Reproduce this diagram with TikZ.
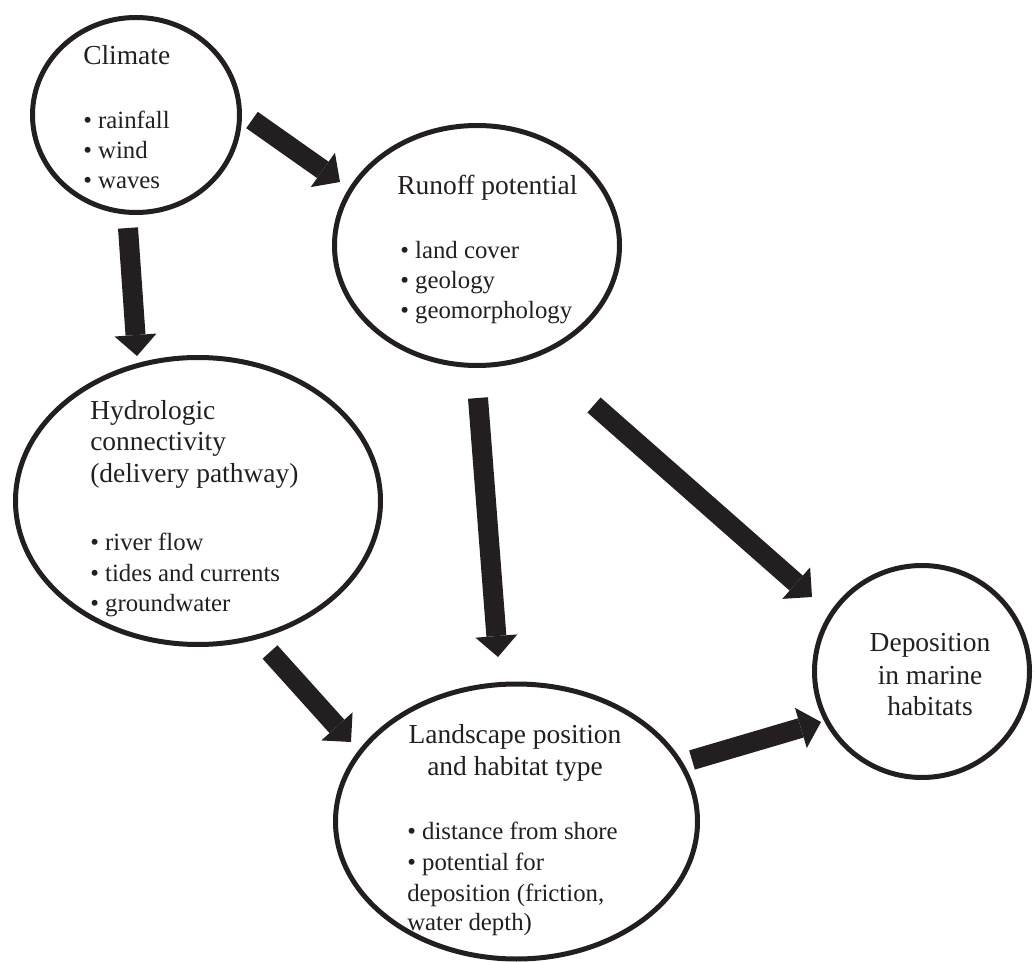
\documentclass[tikz,border=0pt]{standalone}
\usepackage{fontspec}
\setmainfont{Liberation Serif}
\usetikzlibrary{arrows.meta,shapes.geometric}
\definecolor{ink}{HTML}{231F20}
\begin{document}
\begin{tikzpicture}[x=0.75pt,y=-0.75pt,
  bubble/.style={draw=ink, line width=3.75pt, shape=ellipse, inner sep=0pt},
  txt/.style={font=\fontsize{20.6}{23}\selectfont, text=ink, inner sep=0pt},
  itm/.style={font=\fontsize{18.6}{22}\selectfont, text=ink, inner sep=0pt},
  blk/.style={draw=ink, line width=15pt, -{Triangle[width=31.5pt,length=15.75pt,line width=0pt]}}]
\useasboundingbox (0,0) rectangle (1036,962);

% ellipses
\node[bubble, minimum width=155.25pt, minimum height=146.25pt] (climate) at (136,115) {};
\node[bubble, minimum width=213.75pt, minimum height=180pt] (runoff) at (477,245.5) {};
\node[bubble, minimum width=273.75pt, minimum height=215.25pt] (hydro) at (198,501) {};
\node[bubble, minimum width=271.5pt, minimum height=206.25pt] (landscape) at (516.5,821.5) {};
\node[bubble, minimum width=161.25pt, minimum height=159pt] (deposition) at (922,671.5) {};

% texts
\node[txt, anchor=base west] (c0) at (83,65) {Climate};
\node[itm, anchor=base west] (c1) at (83,129) {• rainfall};
\node[itm, anchor=base west] (c2) at (83,159) {• wind};
\node[itm, anchor=base west] (c3) at (83,189) {• waves};

\node[txt, anchor=base west] (r0) at (397,195) {Runoff potential};
\node[itm, anchor=base west] (r1) at (400,259) {• land cover};
\node[itm, anchor=base west] (r2) at (400,289) {• geology};
\node[itm, anchor=base west] (r3) at (400,319) {• geomorphology};

\node[txt, anchor=base west] (h0) at (90,420) {Hydrologic};
\node[txt, anchor=base west] (h1) at (90,451) {connectivity};
\node[txt, anchor=base west] (h2) at (90,483) {(delivery pathway)};
\node[itm, anchor=base west] (h3) at (90,551) {• river flow};
\node[itm, anchor=base west] (h4) at (90,581) {• tides and currents};
\node[itm, anchor=base west] (h5) at (90,611) {• groundwater};

\node[txt, anchor=base] (l0) at (515,743) {Landscape position};
\node[txt, anchor=base] (l1) at (515,775) {and habitat type};
\node[itm, anchor=base west] (l2) at (407,839) {• distance from shore};
\node[itm, anchor=base west] (l3) at (407,870) {• potential for};
\node[itm, anchor=base west] (l4) at (407,901) {deposition (friction,};
\node[itm, anchor=base west] (l5) at (407,930) {water depth)};

\node[txt, anchor=base] (d0) at (930,651) {Deposition};
\node[txt, anchor=base] (d1) at (930,684) {in marine};
\node[txt, anchor=base] (d2) at (930,715) {habitats};

% arrow ends
\coordinate (a1s) at (252,120); \coordinate (a1e) at (340,182);
\coordinate (a2s) at (128,228); \coordinate (a2e) at (137,356);
\coordinate (a3s) at (478,398); \coordinate (a3e) at (498,657);
\coordinate (a4s) at (594,405); \coordinate (a4e) at (812,597);
\coordinate (a5s) at (270,652); \coordinate (a5e) at (351,742);
\coordinate (a6s) at (692,760); \coordinate (a6e) at (821,722);

\draw[blk] (a1s) -- (a1e);
\draw[blk] (a2s) -- (a2e);
\draw[blk] (a3s) -- (a3e);
\draw[blk] (a4s) -- (a4e);
\draw[blk] (a5s) -- (a5e);
\draw[blk] (a6s) -- (a6e);
\end{tikzpicture}
\end{document}
